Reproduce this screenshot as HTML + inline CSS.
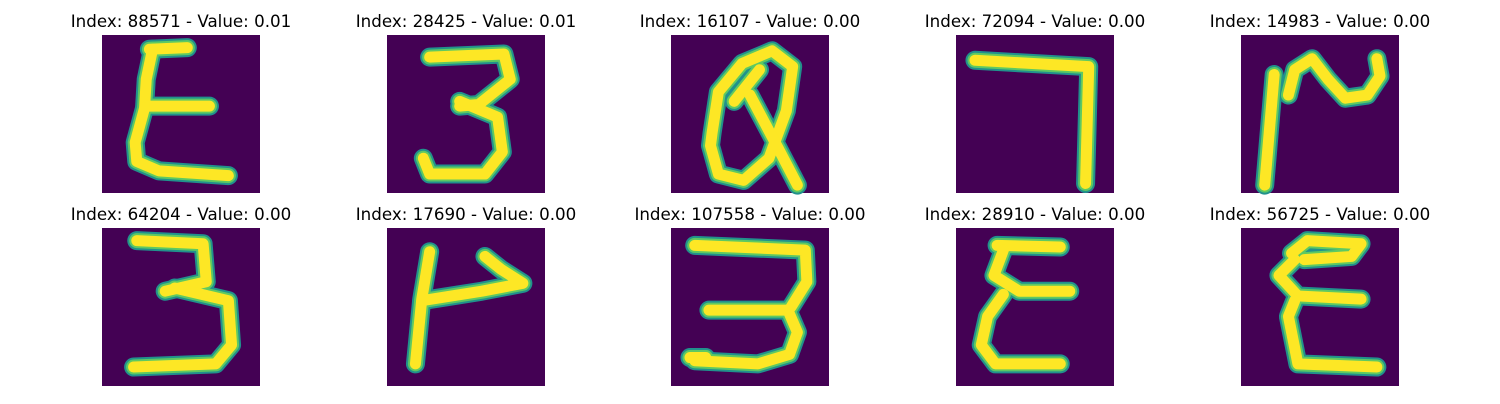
<!DOCTYPE html>
<html><head><meta charset="utf-8"><style>
body{margin:0;background:#fff;width:1500px;height:400px;overflow:hidden;font-family:"DejaVu Sans","Liberation Sans",sans-serif}
</style></head><body>
<svg id="fig" width="1500" height="400" xmlns="http://www.w3.org/2000/svg"></svg>
<script>
const titles=["Index: 88571 - Value: 0.01","Index: 28425 - Value: 0.01","Index: 16107 - Value: 0.00","Index: 72094 - Value: 0.00","Index: 14983 - Value: 0.00","Index: 64204 - Value: 0.00","Index: 17690 - Value: 0.00","Index: 107558 - Value: 0.00","Index: 28910 - Value: 0.00","Index: 56725 - Value: 0.00"];
const glyphs=[
[[[30,9],[54,8]],[[32,9],[28,28],[27,45]],[[28,45],[68,45]],[[27,46],[21,68],[22,80],[36,86],[80,89]]],
[[[27,14],[74,12],[78,28],[58,44],[46,45]],[[46,42],[70,52],[73,74],[62,88],[27,88],[23,78]]],
[[[26,62],[30,36],[45,18],[64,10],[77,20],[73,48],[62,78],[46,92],[30,88],[25,70],[26,62]],[[50,38],[68,72],[80,95]],[[40,42],[56,22]]],
[[[12,16],[84,20],[82,94]]],
[[[15,95],[18,60],[21,25]],[[30,38],[34,22],[45,15],[55,28],[66,40],[80,38],[88,26],[86,15]]],
[[[22,8],[64,10],[66,34],[40,40]],[[46,38],[80,46],[82,74],[72,86],[20,88]]],
[[[18,86],[22,45],[27,15]],[[22,46],[60,40],[86,35],[72,26],[62,18]]],
[[[15,11],[85,14],[86,34],[76,50]],[[24,52],[74,52],[80,66],[75,80],[55,86],[15,84]],[[12,82],[22,82]]],
[[[26,11],[66,12]],[[30,14],[24,30],[40,40],[72,40]],[[30,42],[20,56],[16,74],[25,86],[66,86]]],
[[[32,16],[42,8],[76,10],[70,18],[40,20]],[[34,20],[24,30],[36,43],[76,45]],[[34,46],[30,56],[36,86],[86,88]]]
];
const svg=document.getElementById('fig');
const NS="http://www.w3.org/2000/svg";
const cols=[102,387,671,956,1241], rows=[35,228], S=158;
titles.forEach((t,i)=>{
  const x0=cols[i%5], y0=rows[Math.floor(i/5)];
  const g=document.createElementNS(NS,'g');
  
  
  const tx=document.createElementNS(NS,'text');
  
  
  tx.setAttribute('x',x0+S/2);tx.setAttribute('y',y0-8);
  tx.setAttribute('text-anchor','middle');tx.setAttribute('font-size','16.7');
  tx.textContent=t;g.appendChild(tx);
  const r=document.createElementNS(NS,'rect');
  
  
  r.setAttribute('x',x0);r.setAttribute('y',y0);r.setAttribute('width',S);r.setAttribute('height',S);r.setAttribute('fill','#440154');
  g.appendChild(r);
  [['#21918c',19],['#5ec962',15],['#fde725',11]].forEach(([c,w])=>{
    glyphs[i].forEach(pl=>{
      const p=document.createElementNS(NS,'polyline');
      
      
      p.setAttribute('points',pl.map(([a,b])=>(x0+a*S/100)+','+(y0+b*S/100)).join(' '));
      p.setAttribute('fill','none');p.setAttribute('stroke',c);p.setAttribute('stroke-width',w);
      p.setAttribute('stroke-linejoin','round');p.setAttribute('stroke-linecap','round');
      g.appendChild(p);
    });
  });
  svg.appendChild(g);
});
</script>
</body></html>
